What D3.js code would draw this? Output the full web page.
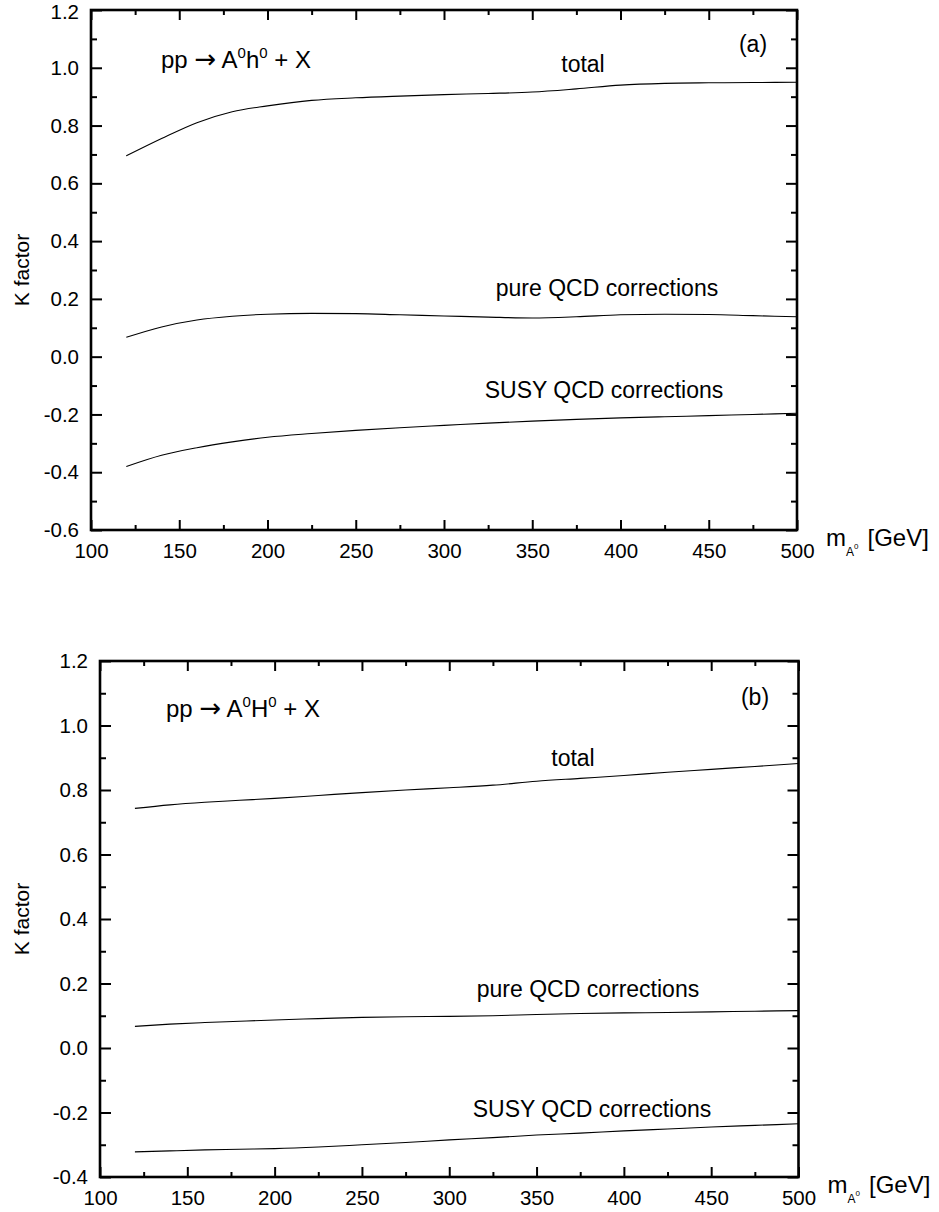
<!DOCTYPE html>
<html>
<head>
<meta charset="utf-8">
<script src="https://cdn.jsdelivr.net/npm/d3@7"></script>
<style>
  html, body { margin: 0; padding: 0; background: #fff; }
  svg { display: block; font-family: "Liberation Sans", Arial, Helvetica, sans-serif; }
</style>
</head>
<body>
<svg id="chart" width="939" height="1212"></svg>
<script>
// pseudoscalar Higgs mass grid, GeV
const massA = [120, 140, 160, 180, 200, 225, 250, 275, 300, 325, 350, 375, 400, 425, 450, 475, 500];

// (a) pp -> A0 h0 + X
const totalAh = [0.695, 0.755, 0.810, 0.848, 0.868, 0.887, 0.896, 0.902, 0.907, 0.911, 0.916, 0.927, 0.940, 0.946, 0.948, 0.949, 0.950];
const pureAh  = [0.067, 0.103, 0.127, 0.140, 0.147, 0.150, 0.149, 0.145, 0.141, 0.137, 0.134, 0.138, 0.145, 0.147, 0.146, 0.142, 0.138];
const susyAh  = [-0.380, -0.341, -0.315, -0.295, -0.279, -0.266, -0.255, -0.246, -0.238, -0.230, -0.223, -0.217, -0.212, -0.208, -0.204, -0.200, -0.196];

// (b) pp -> A0 H0 + X
const totalAH = [0.743, 0.754, 0.762, 0.768, 0.774, 0.783, 0.792, 0.800, 0.807, 0.815, 0.827, 0.836, 0.845, 0.855, 0.864, 0.873, 0.882];
const pureAH  = [0.067, 0.074, 0.079, 0.083, 0.087, 0.091, 0.095, 0.097, 0.098, 0.100, 0.104, 0.107, 0.109, 0.110, 0.112, 0.114, 0.116];
const susyAH  = [-0.322, -0.319, -0.316, -0.314, -0.312, -0.307, -0.300, -0.293, -0.285, -0.278, -0.270, -0.264, -0.257, -0.251, -0.245, -0.240, -0.235];

const xTicks = [100, 150, 200, 250, 300, 350, 400, 450, 500];
const yTicksA = [-0.6, -0.4, -0.2, 0.0, 0.2, 0.4, 0.6, 0.8, 1.0, 1.2];
const yTicksB = [-0.4, -0.2, 0.0, 0.2, 0.4, 0.6, 0.8, 1.0, 1.2];
const seriesLabels = ["total", "pure QCD corrections", "SUSY QCD corrections"];

const svg = d3.select("#chart");

function panel(cfg) {
  const g = svg.append("g");
  const x = d3.scaleLinear().domain([100, 500]).range([cfg.left, cfg.right]);
  const y = d3.scaleLinear().domain(cfg.yDomain).range([cfg.bottom, cfg.top]);

  const yMajor = cfg.yTicks;
  const yMinor = d3.range(cfg.yDomain[0] + 0.1, cfg.yDomain[1], 0.2).map(v => +v.toFixed(2));
  const xMinor = d3.range(125, 500, 50);

  const fmtY = v => v.toFixed(1);

  // bottom axis with labels
  g.append("g").attr("transform", `translate(0,${cfg.bottom})`)
    .call(d3.axisBottom(x).tickValues(xTicks).tickSize(-10).tickPadding(13).tickFormat(d3.format("d")));
  g.append("g").attr("transform", `translate(0,${cfg.bottom})`)
    .call(d3.axisBottom(x).tickValues(xMinor).tickSize(-5).tickFormat(""));
  // top mirror
  g.append("g").attr("transform", `translate(0,${cfg.top})`)
    .call(d3.axisTop(x).tickValues(xTicks).tickSize(-10).tickFormat(""));
  g.append("g").attr("transform", `translate(0,${cfg.top})`)
    .call(d3.axisTop(x).tickValues(xMinor).tickSize(-5).tickFormat(""));
  // left axis with labels
  const left = g.append("g").attr("transform", `translate(${cfg.left},0)`)
    .call(d3.axisLeft(y).tickValues(yMajor).tickSize(-11).tickPadding(12).tickFormat(fmtY));
  g.append("g").attr("transform", `translate(${cfg.left},0)`)
    .call(d3.axisLeft(y).tickValues(yMinor).tickSize(-6).tickFormat(""));
  // right mirror
  g.append("g").attr("transform", `translate(${cfg.right},0)`)
    .call(d3.axisRight(y).tickValues(yMajor).tickSize(-11).tickFormat(""));
  g.append("g").attr("transform", `translate(${cfg.right},0)`)
    .call(d3.axisRight(y).tickValues(yMinor).tickSize(-6).tickFormat(""));

  g.selectAll(".domain").remove();
  g.selectAll(".tick line").attr("stroke", "#000").attr("stroke-width", 2);
  g.selectAll(".tick text").attr("fill", "#000").style("font-size", "20.5px");

  // keep the topmost label clear of the page edge
  if (cfg.top < 20) {
    left.selectAll(".tick").filter(d => d === cfg.yDomain[1]).select("text").attr("y", 2);
  }

  // frame
  g.append("rect")
    .attr("x", cfg.left).attr("y", cfg.top)
    .attr("width", cfg.right - cfg.left).attr("height", cfg.bottom - cfg.top)
    .attr("fill", "none").attr("stroke", "#000").attr("stroke-width", 2.6);

  // curves
  const line = d3.line().x((d, i) => x(massA[i])).y(d => y(d)).curve(d3.curveMonotoneX);
  cfg.series.forEach(s => {
    g.append("path").datum(s).attr("d", line)
      .attr("fill", "none").attr("stroke", "#000").attr("stroke-width", 1.1);
  });

  // curve labels
  cfg.labels.forEach((t, i) => {
    g.append("text").attr("x", cfg.labelPos[i][0]).attr("y", cfg.labelPos[i][1])
      .attr("text-anchor", "middle").style("font-size", "23px").text(t);
  });

  // panel tag
  g.append("text").attr("x", cfg.tagPos[0]).attr("y", cfg.tagPos[1])
    .attr("text-anchor", "middle").style("font-size", "23px").text(cfg.tag);

  // process title
  const title = g.append("text").attr("x", cfg.titlePos[0]).attr("y", cfg.titlePos[1]).style("font-size", "24px");
  title.append("tspan").text("pp ");
  title.append("tspan").style("font-family", "'DejaVu Sans'").style("font-size", "26px").text("\u2192");
  title.append("tspan").text(" A");
  title.append("tspan").attr("dy", -10).style("font-size", "15px").text("0");
  title.append("tspan").attr("dy", 10).text(cfg.partner);
  title.append("tspan").attr("dy", -10).style("font-size", "15px").text("0");
  title.append("tspan").attr("dy", 10).text(" + X");

  // y axis title
  g.append("text")
    .attr("transform", `translate(29,${(cfg.top + cfg.bottom) / 2}) rotate(-90)`)
    .attr("text-anchor", "middle").style("font-size", "21px").text("K factor");

  // x axis title: m_{A^0} [GeV]
  const xt = g.append("text").attr("x", cfg.right + 29).attr("y", cfg.bottom + 16).style("font-size", "24px");
  xt.append("tspan").text("m");
  xt.append("tspan").attr("dy", 10).style("font-size", "12px").text("A");
  xt.append("tspan").attr("dy", -7).style("font-size", "8px").text("0");
  xt.append("tspan").attr("dy", -3).attr("dx", 9).text("[GeV]");
}

panel({
  left: 91, right: 797, top: 10, bottom: 530,
  yDomain: [-0.6, 1.2], yTicks: yTicksA,
  series: [totalAh, pureAh, susyAh],
  labels: seriesLabels,
  labelPos: [[583, 72], [607, 296], [604, 398]],
  tag: "(a)", tagPos: [753, 52],
  titlePos: [161, 68], partner: "h"
});

panel({
  left: 100, right: 798.5, top: 661, bottom: 1177,
  yDomain: [-0.4, 1.2], yTicks: yTicksB,
  series: [totalAH, pureAH, susyAH],
  labels: seriesLabels,
  labelPos: [[573, 766], [588, 997], [592, 1117]],
  tag: "(b)", tagPos: [755, 705],
  titlePos: [166, 717], partner: "H"
});
</script>
</body>
</html>
